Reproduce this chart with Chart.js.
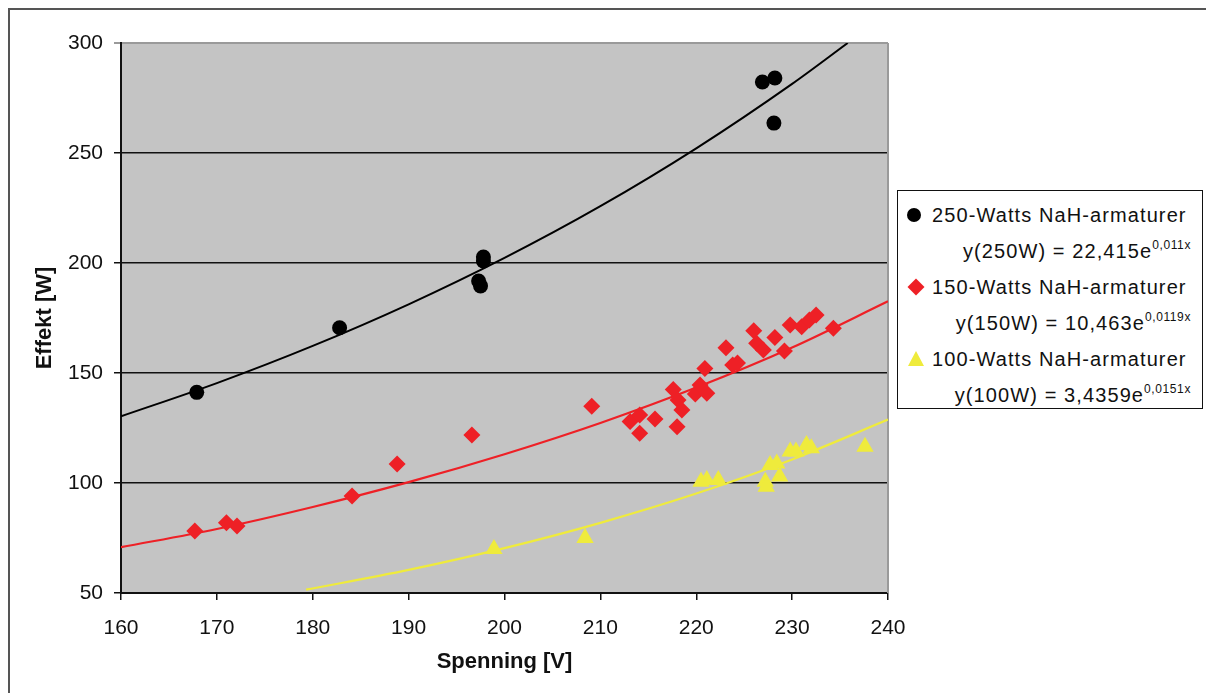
<!DOCTYPE html>
<html>
<head>
<meta charset="utf-8">
<script src="https://cdn.jsdelivr.net/npm/chart.js@4/dist/chart.umd.min.js"></script>
<style>
  html, body { margin: 0; padding: 0; background: #fff; }
  #wrap { position: relative; width: 1206px; height: 693px; overflow: hidden; }
  #frame { position: absolute; left: 8px; top: 8px; width: 1400px; height: 900px; border: 2px solid #555; }
  #chart { position: absolute; left: 0; top: 0; }
  #legend {
    position: absolute; left: 897px; top: 190px; width: 306px; height: 219px;
    background: #fff; border: 1.5px solid #111; box-sizing: border-box;
    font-family: "Liberation Sans", Arial, sans-serif; font-size: 20px; color: #111;
    padding-top: 6px; letter-spacing: 1.1px;
  }
  #legend .row { height: 36px; line-height: 36px; white-space: nowrap; position: relative; padding-left: 34px; }
  #legend .eq { height: 36px; line-height: 36px; white-space: nowrap; text-align: right; padding-right: 11px; }
  #legend sup { font-size: 12px; letter-spacing: 0.6px; vertical-align: 0; position: relative; top: -9px; }
  .mk { position: absolute; }
  .dot { left: 9px; top: 11px; width: 14px; height: 14px; border-radius: 50%; background: #000; }
  .dia { left: 12px; top: 12px; width: 12px; height: 12px; background: #ee2026; transform: rotate(45deg); }
  .tri { left: 10px; top: 10px; width: 0; height: 0; border-left: 8px solid transparent; border-right: 8px solid transparent; border-bottom: 15px solid #efeb3c; }
</style>
</head>
<body>
<div id="wrap">
  <div id="frame"></div>
  <canvas id="chart" width="1206" height="693"></canvas>
  <div id="legend">
    <div class="row"><span class="mk dot"></span>250-Watts NaH-armaturer</div>
    <div class="eq">y(250W) = 22,415e<sup>0,011x</sup></div>
    <div class="row"><span class="mk dia"></span>150-Watts NaH-armaturer</div>
    <div class="eq">y(150W) = 10,463e<sup>0,0119x</sup></div>
    <div class="row"><span class="mk tri"></span>100-Watts NaH-armaturer</div>
    <div class="eq">y(100W) = 3,4359e<sup>0,0151x</sup></div>
  </div>
</div>
<script>
/* Effekt vs spenning for NaH-armaturer, with exponential trendlines */

const COLORS = { black: "#000000", red: "#ee2026", yellow: "#efeb3c", plot: "#c4c4c4" };

// measured points
const volt250 = [167.9, 182.8, 197.3, 197.5, 197.8, 197.8, 226.9, 228.2, 228.1];
const watt250 = [141.2, 170.6, 191.8, 189.6, 202.7, 200.9, 282.3, 284.1, 263.6];

const volt150 = [167.7, 171.0, 172.1, 184.1, 188.8, 196.6, 209.1, 213.1, 214.1, 214.1, 215.7, 217.6,
  218.0, 218.1, 218.5, 219.9, 220.4, 220.9, 221.1, 223.1, 223.8, 224.3, 226.0, 226.3, 227.0, 228.2,
  229.2, 229.8, 231.0, 231.8, 232.5, 234.3];
const watt150 = [78.2, 81.9, 80.5, 94.1, 108.6, 121.8, 134.9, 127.9, 130.9, 122.6, 129.1, 142.5,
  125.6, 137.7, 133.2, 140.4, 144.5, 152.1, 140.8, 161.5, 153.6, 154.5, 169.2, 163.5, 160.5, 166.1,
  160.0, 171.8, 171.0, 174.1, 176.4, 170.3];

const volt100 = [198.9, 208.4, 220.5, 221.1, 222.3, 227.2, 227.3, 227.7, 228.4, 228.7, 229.8, 230.4, 231.5, 232.0, 237.6];
const watt100 = [70.0, 75.0, 100.6, 101.4, 101.4, 100.6, 98.3, 108.2, 108.9, 102.9, 114.3, 114.3, 117.3, 115.8, 116.5];

// trendlines
const trendVolt250 = [160, 170, 180, 190, 200, 210, 220, 230, 235.8];
const trendWatt250 = [130.3, 145.4, 162.3, 181.2, 202.3, 225.8, 252.1, 281.4, 300];
const trendVolt150 = [160, 170, 180, 190, 200, 210, 220, 230, 240];
const trendWatt150 = [70.8, 79.1, 89.1, 100.4, 113.1, 127.3, 143.4, 161.6, 182.6];
const trendVolt100 = [179.3, 190, 200, 210, 220, 230, 240];
const trendWatt100 = [51.5, 60.5, 70.4, 81.9, 95.2, 110.7, 128.8];

const xTicks = [160, 170, 180, 190, 200, 210, 220, 230, 240];
const yTicks = [50, 100, 150, 200, 250, 300];

const pts = (xs, ys) => xs.map((x, i) => ({ x, y: ys[i] }));

const plotArea = {
  id: "plotArea",
  beforeDraw(chart) {
    const { ctx, chartArea: a } = chart;
    ctx.save();
    ctx.fillStyle = COLORS.plot;
    ctx.fillRect(a.left, a.top, a.right - a.left, a.bottom - a.top);
    ctx.restore();
  },
  beforeDatasetsDraw(chart) {
    const { ctx, chartArea: a } = chart;
    ctx.save();
    ctx.strokeStyle = "#9a9a9a";
    ctx.lineWidth = 2;
    ctx.beginPath();
    ctx.moveTo(a.right, a.top);
    ctx.lineTo(a.right, a.bottom);
    ctx.stroke();
    ctx.restore();
  },
};

const trend = (xs, ys, color, width) => ({
  type: "line",
  data: pts(xs, ys),
  borderColor: color,
  borderWidth: width,
  pointRadius: 0,
  showLine: true,
  fill: false,
  tension: 0.4,
  cubicInterpolationMode: "monotone",
});

const tickFont = { family: "'Liberation Sans', Arial, sans-serif", size: 21 };
const titleFont = { family: "'Liberation Sans', Arial, sans-serif", size: 22, weight: "bold" };

new Chart(document.getElementById("chart"), {
  type: "scatter",
  data: {
    datasets: [
      { label: "250-Watts NaH-armaturer", data: pts(volt250, watt250), pointStyle: "circle",
        pointRadius: 7.5, backgroundColor: COLORS.black, borderColor: COLORS.black, borderWidth: 0 },
      { label: "150-Watts NaH-armaturer", data: pts(volt150, watt150), pointStyle: "rectRot",
        pointRadius: 8.5, backgroundColor: COLORS.red, borderColor: COLORS.red, borderWidth: 0 },
      { label: "100-Watts NaH-armaturer", data: pts(volt100, watt100), pointStyle: "triangle",
        pointRadius: 10, backgroundColor: COLORS.yellow, borderColor: COLORS.yellow, borderWidth: 0 },
      trend(trendVolt250, trendWatt250, COLORS.black, 2),
      trend(trendVolt150, trendWatt150, COLORS.red, 2.2),
      trend(trendVolt100, trendWatt100, COLORS.yellow, 2.2),
    ],
  },
  options: {
    responsive: false,
    animation: false,
    layout: { padding: { top: 43, right: 318, left: 0, bottom: 0 } },
    plugins: { legend: { display: false }, tooltip: { enabled: false } },
    scales: {
      x: {
        type: "linear",
        min: 160,
        max: 240,
        afterBuildTicks: (s) => { s.ticks = xTicks.map((v) => ({ value: v })); },
        afterFit: (s) => { s.height = 100; },
        ticks: { font: tickFont, color: "#111", padding: 16, maxRotation: 0 },
        grid: { drawOnChartArea: false, drawTicks: true, tickLength: 7, color: "#111", lineWidth: 1.5 },
        border: { color: "#111", width: 2 },
        title: { display: true, text: "Spenning [V]", font: titleFont, color: "#111", padding: { top: 0, bottom: 18 } },
      },
      y: {
        min: 50,
        max: 300,
        afterBuildTicks: (s) => { s.ticks = yTicks.map((v) => ({ value: v })); },
        afterFit: (s) => { s.width = 121; },
        ticks: { font: tickFont, color: "#111", padding: 11 },
        grid: {
          tickLength: 7,
          color: (c) => (c.tick && c.tick.value === 300 ? "#9a9a9a" : "#111"),
          lineWidth: (c) => (c.tick && c.tick.value === 300 ? 2 : 1.5),
        },
        border: { color: "#111", width: 2 },
        title: { display: true, text: "Effekt [W]", font: titleFont, color: "#111", padding: { top: 32, bottom: 0 } },
      },
    },
  },
  plugins: [plotArea],
});
</script>
</body>
</html>
